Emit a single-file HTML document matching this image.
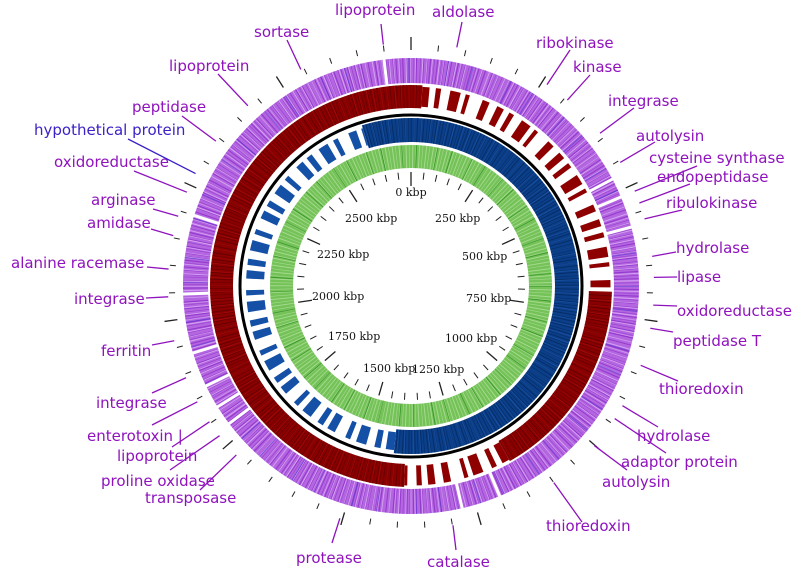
<!DOCTYPE html>
<html><head><meta charset="utf-8"><style>
html,body{margin:0;padding:0;background:#fff;}
svg{display:block;}
.lab{font-family:"DejaVu Sans","Liberation Sans",sans-serif;font-size:15px;fill:#8f12bd;}
.tl{font-family:"DejaVu Serif","Liberation Serif",serif;font-size:11px;fill:#111;}
</style></head><body>
<svg id="map" width="805" height="571" viewBox="0 0 805 571" xmlns="http://www.w3.org/2000/svg">
<g id="rings"></g>
<g id="ticks"></g>
<g id="annots"></g>
</svg>
<script>
const genomeKbp = 2750;
const tickKbp = [0,250,500,750,1000,1250,1500,1750,2000,2250,2500];
const tickLabels = ['0 kbp','250 kbp','500 kbp','750 kbp','1000 kbp','1250 kbp','1500 kbp','1750 kbp','2000 kbp','2250 kbp','2500 kbp'];
const annotNames = ['lipoprotein','aldolase','ribokinase','kinase','integrase','autolysin','cysteine synthase','endopeptidase','ribulokinase','hydrolase','lipase','oxidoreductase','peptidase T','thioredoxin','hydrolase','adaptor protein','autolysin','thioredoxin','catalase','protease','transposase','proline oxidase','lipoprotein','enterotoxin |','integrase','ferritin','integrase','alanine racemase','amidase','arginase','oxidoreductase','hypothetical protein','peptidase','lipoprotein','sortase'];
const annotKbp = [2700,83,260,306,390,454,512,535,565,634,672,722,764,833,913,940,1001,1100,1299,1505,1726,1772,1803,1845,1893,1963,2043,2093,2154,2190,2236,2273,2342,2428,2544];
const purpleGapKbp = [2698,474,512,573,1276,1200,1779,1818,1864,1932,2047,2200];
const redSparseKbp = [[25,700],[1150,1390]];
const blueSparseKbp = [[1420,2620]];

// layout (label text position x, baseline y, line end x, y)
const annotLayout = [[335,15,381,24],[432,17,462,22],[536,48,570,50],[573,72,590,75],[608,106,634,108],[636,141,655,142],[649,163,697,166],[657,182,690,184],[666,208,682,210],[676,253,676,252],[677,282,677,277],[677,316,677,306],[673,346,673,332],[659,394,678,381],[637,441,658,427],[621,467,666,453],[602,487,627,470],[546,531,582,522],[427,567,456,550],[296,563,332,543],[145,503,200,490],[101,486,170,470],[117,461,172,447],[87,441,152,425],[96,408,152,393],[101,356,152,345],[74,304,146,298],[11,268,147,267],[87,228,151,229],[91,205,153,209],[54,167,134,171],[34,135,128,139],[132,112,182,116],[169,71,218,74],[254,37,287,40]];
const tickLayout = [[411,196,'middle'],[435,222,'start'],[462,260,'start'],[466,302,'start'],[445,342,'start'],[412,373,'start'],[363,372,'start'],[328,340,'start'],[312,300,'start'],[317,258,'start'],[345,222,'start']];

const CX=411, CY=286, NS='http://www.w3.org/2000/svg';
function ang(k){return k/genomeKbp*360;}
function pt(r,d){const a=d*Math.PI/180;return [CX+r*Math.sin(a), CY-r*Math.cos(a)];}
function arcPath(r,a0,a1){const p=pt(r,a0),q=pt(r,a1);const l=(a1-a0)>180?1:0;return `M${p[0]},${p[1]} A${r},${r} 0 ${l} 1 ${q[0]},${q[1]}`;}
function mk(tag,parent,attrs){const e=document.createElementNS(NS,tag);for(const k in attrs)e.setAttribute(k,attrs[k]);parent.appendChild(e);return e;}
const rings=document.getElementById('rings'), ticks=document.getElementById('ticks'), annots=document.getElementById('annots');

function ringCircle(r,w,color,dash,op){const c=mk('circle',rings,{cx:CX,cy:CY,r:r,fill:'none',stroke:color,'stroke-width':w});if(dash)c.setAttribute('stroke-dasharray',dash);if(op)c.setAttribute('opacity',op);


return c;}
function ringArc(r,k0,k1,w,color,dash){const p=mk('path',rings,{d:arcPath(r,ang(k0),ang(k1)),fill:'none',stroke:color,'stroke-width':w});if(dash)p.setAttribute('stroke-dasharray',dash);


return p;}

// purple ring (r 203-228)
ringCircle(215.5,25,'#b466e0');
ringCircle(215.5,25,'#8a2cc8','0.6 2.3 1 3.1 0.5 1.7 1.2 2.9',0.75);
ringCircle(215.5,25,'#dcb0f6','0.6 4.3 0.8 6.1 1 3.3',0.85);
ringCircle(215.5,25,'#5a3ad2','0.8 23 1 37',0.7);
purpleGapKbp.forEach(k=>{const a=ang(k),p=pt(201,a),q=pt(230,a);const l=mk('line',rings,{x1:p[0],y1:p[1],x2:q[0],y2:q[1],stroke:'#fff','stroke-width':3});

});

// red ring (r 178-201)
ringCircle(189.5,23,'#8a0000');
ringCircle(189.5,23,'#5a0000','0.6 2.1 0.9 2.7',0.8);
ringCircle(189.5,23,'#b01010','0.7 5.3 0.6 7.1',0.7);
redSparseKbp.forEach(s=>{ringArc(189.5,s[0],s[1],25,'#fff');ringArc(189.5,s[0],s[1],20,'#8e0000','7 6 5 9 10 5 4 13 7 8');});

// black circle
ringCircle(171,3,'#000');

// blue ring (r 144-168)
ringCircle(156,24,'#0b3f8a');
ringCircle(156,24,'#05295e','0.6 1.9 1 2.6',0.8);
ringCircle(156,24,'#2a62b8','0.6 6.1 0.7 8.3',0.6);
blueSparseKbp.forEach(s=>{ringArc(156,s[0],s[1],26,'#fff');ringArc(156,s[0],s[1],18,'#1450a6','8 5 6 8 10 6 5 11');});

// green ring (r 118-141)
ringCircle(129.5,23,'#74c258');
ringCircle(129.5,23,'#b2e09c','0.6 2.6 1 2.2',0.8);
ringCircle(129.5,23,'#2f8f22','0.6 13 0.8 19',0.9);

// ticks every 50 kbp
for(let k=0;k<genomeKbp;k+=50){const a=ang(k),major=(k%250===0);
 const p=pt(114,a),q=pt(major?100:107,a);
 const t=mk('line',ticks,{x1:p[0],y1:p[1],x2:q[0],y2:q[1],stroke:'#222','stroke-width':major?1.3:1});
 
 
 const p2=pt(236,a),q2=pt(major?249:242,a);
 const t2=mk('line',ticks,{x1:p2[0],y1:p2[1],x2:q2[0],y2:q2[1],stroke:'#222','stroke-width':major?1.3:1});
 
 }
tickKbp.forEach((k,i)=>{const L=tickLayout[i];const t=mk('text',ticks,{x:L[0],y:L[1],'text-anchor':L[2],class:'tl'});t.textContent=tickLabels[i];
 
 });

// annotations
annotNames.forEach((n,i)=>{const L=annotLayout[i];const a=ang(annotKbp[i]);const p=pt(243,a);
 const col=(n==='hypothetical protein')?'#3a22c8':'#8f12bd';
 const ln=mk('line',annots,{x1:p[0],y1:p[1],x2:L[2],y2:L[3],stroke:col,'stroke-width':1.3});
 
 
 const t=mk('text',annots,{x:L[0],y:L[1],class:'lab'});t.style.fill=col;t.textContent=n;
 
 });
</script>
</body></html>
